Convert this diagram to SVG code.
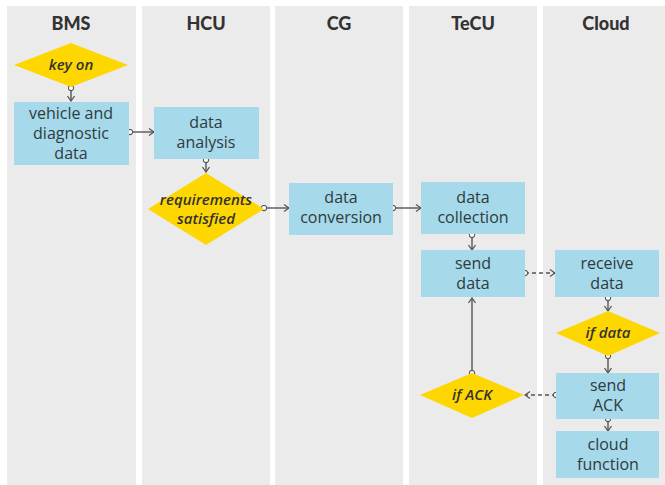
<svg xmlns="http://www.w3.org/2000/svg" width="665" height="485" viewBox="0 0 665 485">
<defs>
<style>
.lane{fill:#ebebeb}
.hdr{font-family:"Lato","Liberation Sans",sans-serif;font-weight:900;font-size:18px;fill:#333;text-anchor:middle}
.box{fill:#a6d9ea}
.dia{fill:#fed700}
.t{font-family:"Open Sans","Liberation Sans",sans-serif;font-size:16px;fill:#2f3b40;text-anchor:middle}
.ti{font-family:"Open Sans","Liberation Sans",sans-serif;font-size:15px;font-style:italic;font-weight:600;fill:#333;text-anchor:middle}
.c{fill:none;stroke:#555;stroke-width:1.4;marker-start:url(#dot);marker-end:url(#arr)}
.d{stroke-dasharray:4 3}
</style>
<marker id="arr" viewBox="0 0 8 10" refX="7" refY="5" markerWidth="8" markerHeight="10" markerUnits="userSpaceOnUse" orient="auto">
<path d="M2,1.5 L7,5 L2,8.5" fill="none" stroke="#555" stroke-width="1.3"/>
</marker>
<marker id="dot" viewBox="0 0 8 8" refX="4" refY="4" markerWidth="7" markerHeight="7" markerUnits="userSpaceOnUse" orient="auto">
<circle cx="4" cy="4" r="3" fill="#fff" stroke="#555" stroke-width="1.2"/>
</marker>
</defs>
<rect width="665" height="485" fill="#fff"/>
<g id="lanes">
<rect class="lane" x="7" y="6" width="129" height="479"/>
<rect class="lane" x="142" y="6" width="128" height="479"/>
<rect class="lane" x="275" y="6" width="128" height="479"/>
<rect class="lane" x="409" y="6" width="128" height="479"/>
<rect class="lane" x="543" y="6" width="122" height="479"/>
<text class="hdr" x="71" y="30">BMS</text>
<text class="hdr" x="206" y="30">HCU</text>
<text class="hdr" x="339" y="30">CG</text>
<text class="hdr" x="473" y="30">TeCU</text>
<text class="hdr" x="606" y="30">Cloud</text>
</g>
<g id="connectors">
<path class="c" d="M71,88 L71,101"/>
<path class="c" d="M130,132 L154,132"/>
<path class="c" d="M206,160 L206,172"/>
<path class="c" d="M264,208 L289,208"/>
<path class="c" d="M393,208 L421,208"/>
<path class="c" d="M472,235 L472,250"/>
<path class="c d" d="M525,273 L555,273"/>
<path class="c" d="M608,298 L608,311"/>
<path class="c" d="M608,356 L608,373"/>
<path class="c d" d="M556,395 L525,395"/>
<path class="c" d="M472,373 L472,298"/>
<path class="c" d="M608,419 L608,431"/>
</g>
<g id="key-on">
<polygon class="dia" points="71,43 128,65 71,87 14,65"/>
<text class="ti" x="71" y="70">key on</text>
</g>
<g id="vehicle-data">
<rect class="box" x="14" y="102" width="115" height="63"/>
<text class="t" x="71" y="119">vehicle and</text>
<text class="t" x="71" y="139">diagnostic</text>
<text class="t" x="71" y="159">data</text>
</g>
<g id="data-analysis">
<rect class="box" x="154" y="107" width="105" height="52"/>
<text class="t" x="206" y="128">data</text>
<text class="t" x="206" y="148">analysis</text>
</g>
<g id="requirements">
<polygon class="dia" points="206,173 264,209 206,245 148,209"/>
<text class="ti" x="206" y="205" font-size="13">requirements</text>
<text class="ti" x="206" y="224" font-size="13">satisfied</text>
</g>
<g id="data-conversion">
<rect class="box" x="289" y="183" width="104" height="52"/>
<text class="t" x="341" y="203">data</text>
<text class="t" x="341" y="223">conversion</text>
</g>
<g id="data-collection">
<rect class="box" x="421" y="182" width="104" height="52"/>
<text class="t" x="473" y="203">data</text>
<text class="t" x="473" y="223">collection</text>
</g>
<g id="send-data">
<rect class="box" x="421" y="250" width="104" height="47"/>
<text class="t" x="473" y="269">send</text>
<text class="t" x="473" y="289">data</text>
</g>
<g id="receive-data">
<rect class="box" x="555" y="250" width="104" height="47"/>
<text class="t" x="607" y="269">receive</text>
<text class="t" x="607" y="289">data</text>
</g>
<g id="if-data">
<polygon class="dia" points="608,311 660,333 608,356 556,333"/>
<text class="ti" x="608" y="338">if data</text>
</g>
<g id="send-ack">
<rect class="box" x="556" y="373" width="103" height="46"/>
<text class="t" x="608" y="391">send</text>
<text class="t" x="608" y="411">ACK</text>
</g>
<g id="cloud-function">
<rect class="box" x="556" y="431" width="103" height="47"/>
<text class="t" x="608" y="450">cloud</text>
<text class="t" x="608" y="470">function</text>
</g>
<g id="if-ack">
<polygon class="dia" points="472,373 524,395 472,418 420,395"/>
<text class="ti" x="472" y="400">if ACK</text>
</g>
</svg>
